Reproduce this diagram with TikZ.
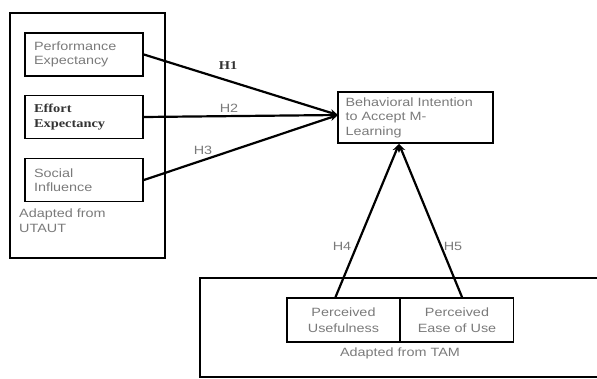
\documentclass[tikz,border=0pt]{standalone}
\usepackage{fontspec}
\usetikzlibrary{arrows.meta}
\newfontfamily\sfa[FakeStretch=1.2]{Liberation Sans}
\newfontfamily\serb[FakeStretch=1.2]{Liberation Serif}
\definecolor{txtgray}{HTML}{7A7A7A}
\definecolor{txtdark}{HTML}{333333}
\tikzset{
  grp/.style={draw, line width=1.8pt, rectangle, inner sep=0pt},
  boxn/.style={draw, line width=1.8pt, rectangle, minimum width=118pt, minimum height=43pt,
    text width=100pt, align=left, inner xsep=0pt, font=\sfa\fontsize{12}{14.5}\selectfont, text=txtgray},
  boldtxt/.style={font=\serb\bfseries\fontsize{12}{14.5}\selectfont, text=txtdark},
  cbox/.style={draw, line width=1.8pt, rectangle, minimum width=113pt, minimum height=44pt,
    align=center, inner sep=0pt, font=\sfa\fontsize{12}{15.5}\selectfont, text=txtgray},
  lbl/.style={font=\sfa\fontsize{12}{14.5}\selectfont, text=txtgray, inner sep=0pt},
  arr/.style={line width=2.2pt, -{Stealth[length=8pt,width=7pt]}}
}
\begin{document}
\begin{tikzpicture}[x=1pt,y=-1pt]
\useasboundingbox (0,0) rectangle (597,379);
% UTAUT group
\node[grp, minimum width=155pt, minimum height=245pt] (utaut) at (87.5,135.5) {};
\node[boxn] (pe) at (84,54.5) {Performance\\Expectancy};
\node[boxn, boldtxt] (ee) at (84,117) {Effort\\Expectancy};
\node[boxn] (si) at (84,180) {Social\\Influence};
\node[lbl, anchor=north west, align=left] (utautlbl) at (19,209) {Adapted from\\UTAUT};
% Behavioral intention
\node[boxn, minimum width=155pt, minimum height=51pt, text width=140pt] (bi) at (415.5,117.5) {Behavioral Intention\\to Accept M-\\Learning};
% TAM group
\node[grp, minimum width=400pt, minimum height=99pt] (tam) at (400,327.5) {};
\node[cbox] (pu) at (343.5,320) {Perceived\\Usefulness};
\node[cbox] (peou) at (457,320) {Perceived\\Ease of Use};
\node[lbl] (tamlbl) at (400,353) {Adapted from TAM};
% arrow targets
\coordinate (tipw) at (338,115);
\coordinate (tips) at (399,144);
\path (pu.north) ++(-8,0) coordinate (putop);
\path (peou.north) ++(5,0) coordinate (peoutop);
% connectors
\draw[arr] (pe.east) -- (tipw);
\draw[arr] (ee.east) -- (tipw);
\draw[arr] (si.east) -- (tipw);
\draw[arr] (putop) -- (tips);
\draw[arr] (peoutop) -- (tips);
% hypothesis labels
\node[lbl, boldtxt] (h1) at (228,66) {H1};
\node[lbl] (h2) at (229,108) {H2};
\node[lbl] (h3) at (203,150) {H3};
\node[lbl] (h4) at (342,246) {H4};
\node[lbl] (h5) at (453,246) {H5};
\end{tikzpicture}
\end{document}
